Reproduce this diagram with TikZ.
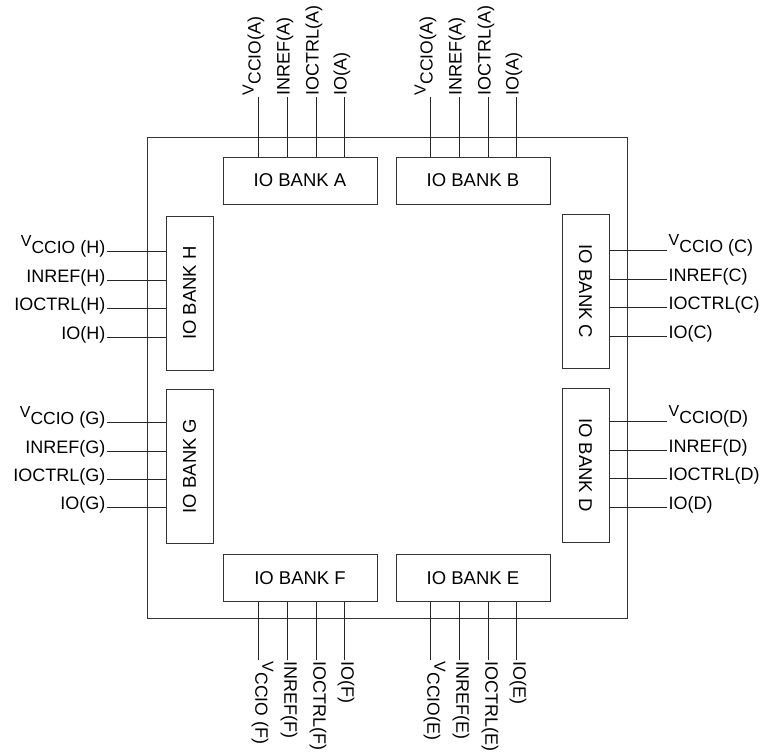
\documentclass[tikz,border=0pt]{standalone}
\usepackage{fontspec}
\setmainfont{Liberation Sans}
\usetikzlibrary{calc}
\newcommand\vcc{{\fontsize{16}{17}\selectfont\raisebox{7pt}{V}}{\fontsize{17.5}{18}\selectfont CCIO}}
\begin{document}
\begin{tikzpicture}[x=1pt,y=-1pt,
  wire/.style={draw=black!85, line width=0.8pt},
  hbank/.style={draw=black!80, line width=0.8pt, minimum width=154pt, minimum height=47pt, inner sep=0pt, font=\fontsize{18.5}{20}\selectfont},
  vbank/.style={hbank, minimum width=47pt, minimum height=154pt},
  lab/.style={inner sep=1.5pt, font=\fontsize{18}{20}\selectfont},
  chipbox/.style={draw=black!80, line width=0.8pt, minimum width=480pt, minimum height=481pt, inner sep=0pt}
]
\useasboundingbox (0,0) rectangle (764,755);
\node[chipbox] (chip) at (387,377.5) {};
\node[hbank] (A) at (300,180.5) {IO BANK A};
\node[hbank] (B) at (473,180.5) {IO BANK B};
\node[hbank] (F) at (300,578) {IO BANK F};
\node[hbank] (E) at (473,578) {IO BANK E};
\node[vbank] (H) at (189.5,293) {\rotatebox{90}{IO BANK H}};
\node[vbank] (G) at (189.5,466) {\rotatebox{90}{IO BANK G}};
\node[vbank] (C) at (585.5,291.5) {\rotatebox{-90}{IO BANK C}};
\node[vbank] (D) at (585.5,465) {\rotatebox{-90}{IO BANK D}};
% top A
\foreach \x/\t [count=\i] in {258/\vcc(A), 287/INREF(A), 316/IOCTRL(A), 344/IO(A)} {
  \node[lab, rotate=90, anchor=mid west] (a\i) at (\x,97) {\t};
  \draw[wire] (a\i.mid west) -- (a\i.mid west |- A.north);
}
% top B
\foreach \x/\t [count=\i] in {430/\vcc(A), 459/INREF(A), 488/IOCTRL(A), 516/IO(A)} {
  \node[lab, rotate=90, anchor=mid west] (b\i) at (\x,97) {\t};
  \draw[wire] (b\i.mid west) -- (b\i.mid west |- B.north);
}
% bottom F
\foreach \x/\t [count=\i] in {258/\vcc\ (F), 287/INREF(F), 316/IOCTRL(F), 344/IO(F)} {
  \node[lab, rotate=-90, anchor=mid west] (f\i) at (\x,660) {\t};
  \draw[wire] (f\i.mid west) -- (f\i.mid west |- F.south);
}
% bottom E
\foreach \x/\t [count=\i] in {430/\vcc(E), 459/INREF(E), 488/IOCTRL(E), 516/IO(E)} {
  \node[lab, rotate=-90, anchor=mid west] (e\i) at (\x,660) {\t};
  \draw[wire] (e\i.mid west) -- (e\i.mid west |- E.south);
}
% left H
\foreach \y/\t [count=\i] in {251/\vcc\ (H), 280/INREF(H), 308/IOCTRL(H), 337/IO(H)} {
  \node[lab, anchor=mid east] (h\i) at (107,\y) {\t};
  \draw[wire] (h\i.mid east) -- (h\i.mid east -| H.west);
}
% left G
\foreach \y/\t [count=\i] in {422/\vcc\ (G), 451/INREF(G), 479/IOCTRL(G), 507/IO(G)} {
  \node[lab, anchor=mid east] (g\i) at (107,\y) {\t};
  \draw[wire] (g\i.mid east) -- (g\i.mid east -| G.west);
}
% right C
\foreach \y/\t [count=\i] in {250/\vcc\ (C), 279/INREF(C), 307/IOCTRL(C), 336/IO(C)} {
  \node[lab, anchor=mid west] (c\i) at (667,\y) {\t};
  \draw[wire] (c\i.mid west) -- (c\i.mid west -| C.east);
}
% right D
\foreach \y/\t [count=\i] in {421/\vcc(D), 450/INREF(D), 478/IOCTRL(D), 507/IO(D)} {
  \node[lab, anchor=mid west] (d\i) at (667,\y) {\t};
  \draw[wire] (d\i.mid west) -- (d\i.mid west -| D.east);
}
\end{tikzpicture}
\end{document}
